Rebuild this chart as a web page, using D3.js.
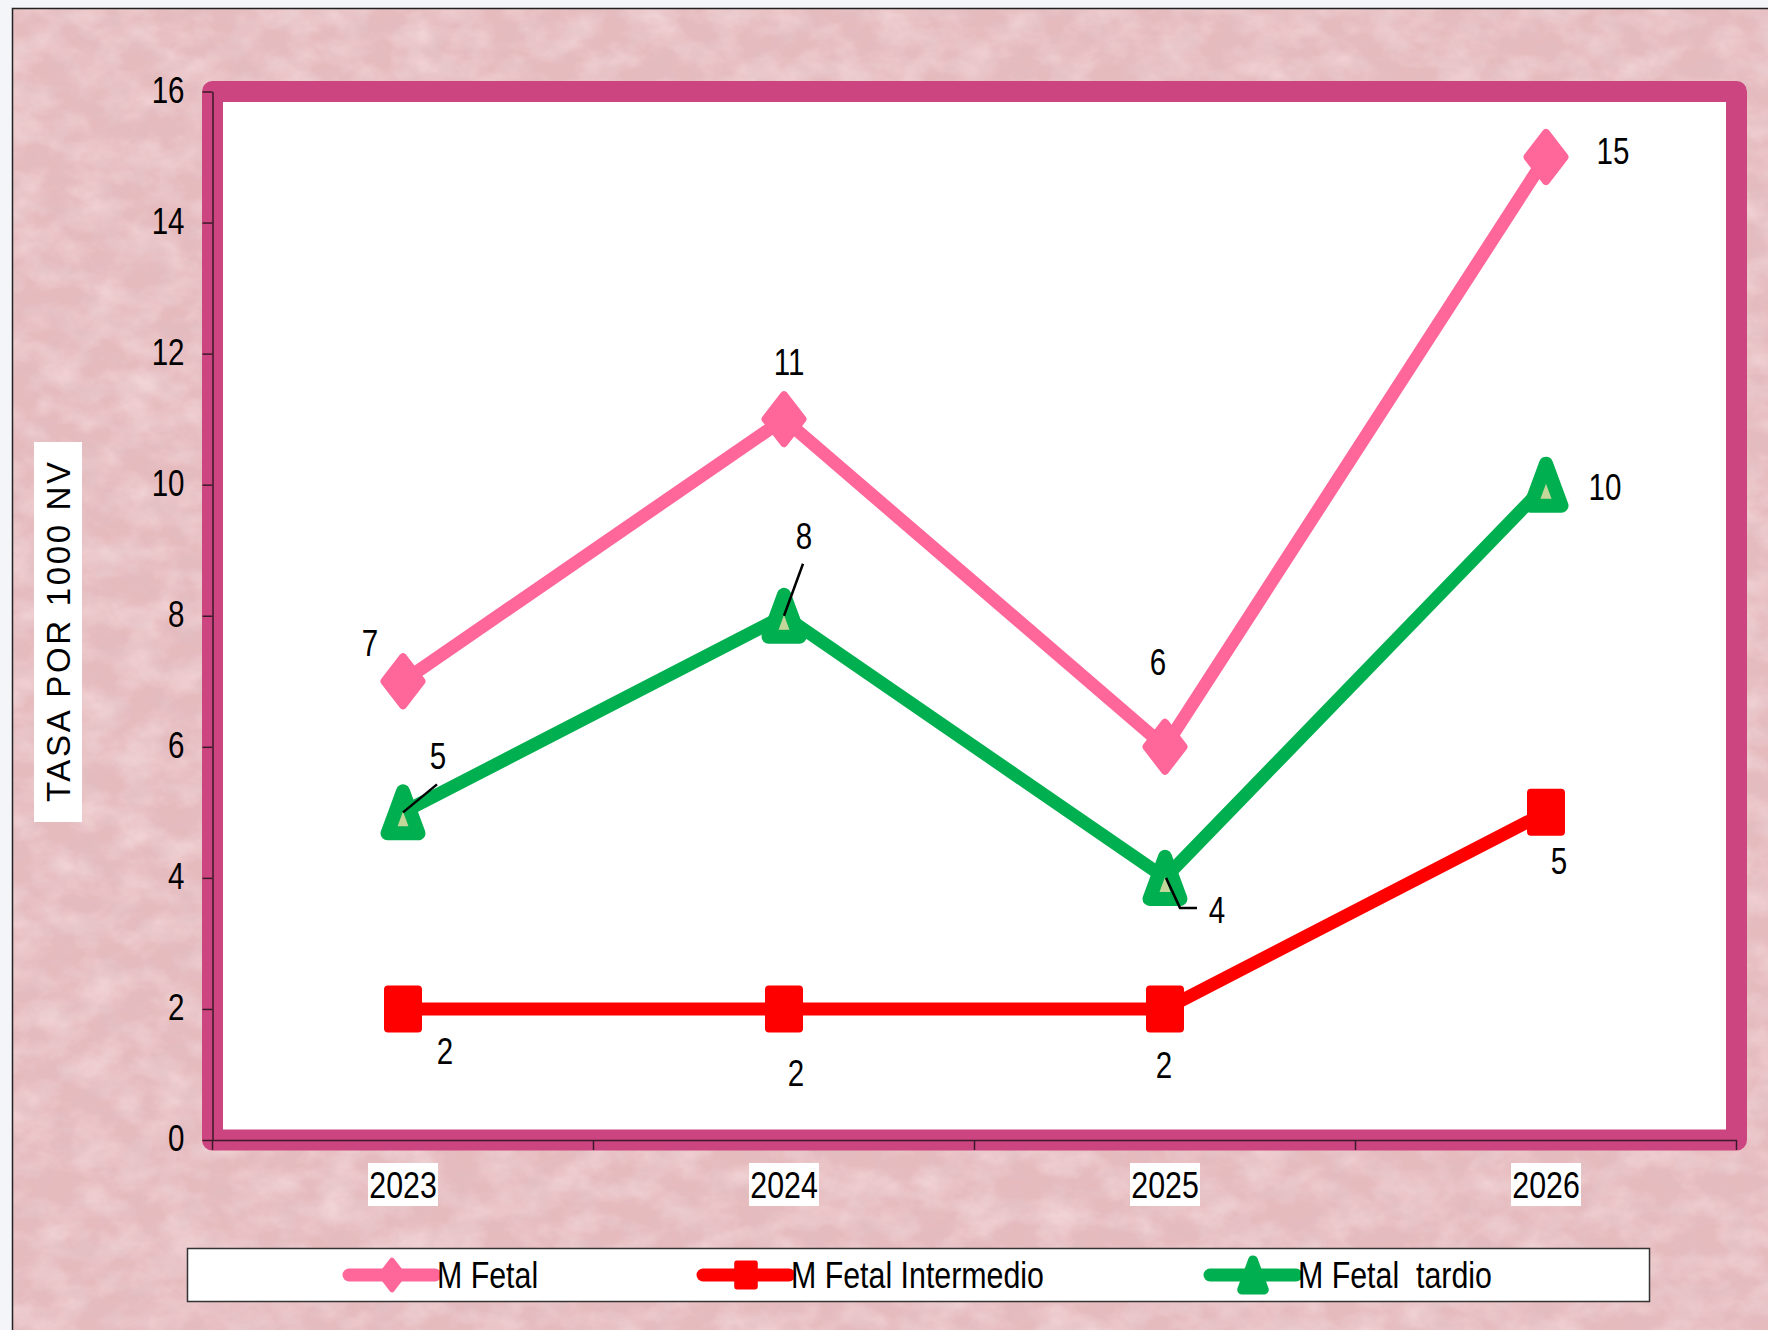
<!DOCTYPE html>
<html><head><meta charset="utf-8">
<script src="https://cdn.jsdelivr.net/npm/d3@7"></script>
<style>
html,body{margin:0;padding:0;background:#f3f5f8;}
svg{display:block;}
</style></head>
<body>
<svg id="chart" width="1768" height="1330"></svg>
<script>
// ---------- data ----------
const years = ["2023", "2024", "2025", "2026"];
const mFetal = [7, 11, 6, 15];
const mFetalIntermedio = [2, 2, 2, 5];
const mFetalTardio = [5, 8, 4, 10];
const yTicks = [0, 2, 4, 6, 8, 10, 12, 14, 16];
const seriesNames = ["M Fetal", "M Fetal Intermedio", "M Fetal  tardio"];
const yTitle = "TASA POR 1000 NV";

// ---------- label placement (offsets from the point, px) ----------
const offFetal = [[-33, -38], [5, -57], [-7, -85], [67, -6]];
const offInter = [[42, 42], [12, 64], [-1, 56], [13, 49]];
const offTardio = [[35, -56], [20, -80], [52, 32], [59, 2]];

const W = 1768, H = 1330;
const NARROW = "'Liberation Sans',Arial,sans-serif";
const SANS = "'Liberation Sans',Arial,sans-serif";
const svg = d3.select("#chart");
const defs = svg.append("defs");

// condense text horizontally (Arial Narrow look)
function narrow(sel, k = 0.82) {
  sel.each(function () {
    const len = this.getComputedTextLength();
    d3.select(this).attr("textLength", len * k).attr("lengthAdjust", "spacingAndGlyphs");
  });
}

// paper texture
const f = defs.append("filter").attr("id", "paper").attr("x", 0).attr("y", 0).attr("width", "100%").attr("height", "100%");
f.append("feTurbulence").attr("type", "fractalNoise").attr("baseFrequency", "0.025 0.035").attr("numOctaves", 4).attr("seed", 7).attr("result", "n");
f.append("feColorMatrix").attr("in", "n").attr("type", "matrix")
  .attr("values", "0 0 0 0 1  0 0 0 0 0.88  0 0 0 0 0.89  0.9 0 0 0 -0.33");
const f2 = defs.append("filter").attr("id", "paperDark").attr("x", 0).attr("y", 0).attr("width", "100%").attr("height", "100%");
f2.append("feTurbulence").attr("type", "fractalNoise").attr("baseFrequency", "0.04 0.05").attr("numOctaves", 3).attr("seed", 19).attr("result", "n");
f2.append("feColorMatrix").attr("in", "n").attr("type", "matrix")
  .attr("values", "0 0 0 0 0.72  0 0 0 0 0.52  0 0 0 0 0.55  0.9 0 0 0 -0.35");

// outer background frame
svg.append("rect").attr("x", 12).attr("y", 8).attr("width", W - 12).attr("height", H - 8).attr("fill", "#e6bbbe");
svg.append("rect").attr("x", 12).attr("y", 8).attr("width", W - 12).attr("height", H - 8).attr("filter", "url(#paper)");
svg.append("rect").attr("x", 12).attr("y", 8).attr("width", W - 12).attr("height", H - 8).attr("filter", "url(#paperDark)");
svg.append("path").attr("d", `M12.5,${H} L12.5,8.5 L${W},8.5`).attr("fill", "none").attr("stroke", "#222").attr("stroke-width", 1.5);

// ---------- scales ----------
const plotL = 212.5, plotR = 1736.5, plotT = 91.5, plotB = 1140;
const x = d3.scaleBand().domain(years).range([plotL, plotR]).padding(0);
const y = d3.scaleLinear().domain([0, 16]).range([plotB, plotT]);
const cx = d => x(d) + x.bandwidth() / 2;

// plot area with magenta frame
svg.append("rect").attr("x", plotL).attr("y", plotT).attr("width", plotR - plotL).attr("height", plotB - plotT)
  .attr("fill", "#ffffff").attr("stroke", "#cc4580").attr("stroke-width", 21).attr("stroke-linejoin", "round");

// y axis
const yAxis = svg.append("g").attr("transform", `translate(${plotL},0)`)
  .call(d3.axisLeft(y).tickValues(yTicks).tickSize(10).tickSizeOuter(0).tickPadding(18));
yAxis.select(".domain").attr("stroke", "#3a1a28").attr("stroke-width", 1.5);
yAxis.selectAll(".tick line").attr("stroke", "#3a1a28").attr("stroke-width", 1.5);
yAxis.selectAll(".tick text").attr("font-family", NARROW).attr("font-size", 36).attr("fill", "#000").attr("dy", "0.3em").call(narrow);

// x axis
const xAxis = svg.append("g").attr("transform", `translate(0,${plotB})`)
  .call(d3.axisBottom(x).tickSize(0).tickSizeOuter(0).tickFormat(""));
xAxis.select(".domain").attr("stroke", "#3a1a28").attr("stroke-width", 1.5);
const bounds = years.map(d => x(d)).concat([plotR]);
svg.append("g").selectAll("line").data(bounds).join("line")
  .attr("x1", d => d).attr("x2", d => d).attr("y1", plotB).attr("y2", plotB + 10)
  .attr("stroke", "#3a1a28").attr("stroke-width", 1.5);
const xl = svg.append("g").selectAll("g").data(years).join("g").attr("transform", d => `translate(${cx(d)},1185)`);
xl.append("rect").attr("x", -35).attr("y", -22).attr("width", 70).attr("height", 43).attr("fill", "#fff");
xl.append("text").attr("text-anchor", "middle").attr("y", 13).attr("font-family", NARROW).attr("font-size", 37).attr("fill", "#000").text(d => d).call(narrow);

// y title
const yt = svg.append("g").attr("transform", "translate(58,632) rotate(-90)");
yt.append("rect").attr("x", -190).attr("y", -24).attr("width", 380).attr("height", 48).attr("fill", "#fff");
yt.append("text").attr("text-anchor", "middle").attr("y", 12).attr("font-family", SANS).attr("font-size", 33)
  .attr("textLength", 340).attr("lengthAdjust", "spacing").attr("fill", "#000").text(yTitle);

// ---------- markers ----------
function diamond(g, s) {
  g.append("path").attr("d", `M0,${-24 * s} L${18.5 * s},0 L0,${24 * s} L${-18.5 * s},0 Z`)
    .attr("fill", "#ff6699").attr("stroke", "#ff6699").attr("stroke-width", 8 * s).attr("stroke-linejoin", "round");
}
function square(g, s) {
  g.append("path").attr("d", `M${-15 * s},${-19.5 * s} H${15 * s} V${19.5 * s} H${-15 * s} Z`)
    .attr("fill", "#ff0000").attr("stroke", "#ff0000").attr("stroke-width", 8 * s).attr("stroke-linejoin", "round");
}
function triangle(g, s, inner) {
  g.append("path").attr("d", `M0,${-21 * s} L${15.5 * s},${21 * s} L${-15.5 * s},${21 * s} Z`)
    .attr("fill", inner ? "#c4d79b" : "#00b050").attr("stroke", "#00b050").attr("stroke-width", 14 * s).attr("stroke-linejoin", "round");
}

const series = [
  { name: seriesNames[0], vals: mFetal, color: "#ff6699", marker: diamond, off: offFetal },
  { name: seriesNames[1], vals: mFetalIntermedio, color: "#ff0000", marker: square, off: offInter },
  { name: seriesNames[2], vals: mFetalTardio, color: "#00b050", marker: triangle, off: offTardio }
];

const line = d3.line().x(d => cx(d.year)).y(d => y(d.v));
series.forEach(s => {
  const pts = years.map((yr, i) => ({ year: yr, v: s.vals[i] }));
  svg.append("path").datum(pts).attr("d", line).attr("fill", "none").attr("stroke", s.color)
    .attr("stroke-width", 13).attr("stroke-linejoin", "miter");
  pts.forEach(p => {
    const g = svg.append("g").attr("transform", `translate(${cx(p.year)},${y(p.v)})`);
    s.marker(g, 1, true);
  });
});

// leader lines for the tardío labels (anchored at points)
const tardPts = years.map((yr, i) => [cx(yr), y(mFetalTardio[i])]);
const leaders = [
  [[tardPts[0][0] + 34, tardPts[0][1] - 28], [tardPts[0][0], tardPts[0][1]]],
  [[tardPts[1][0] + 19, tardPts[1][1] - 52], [tardPts[1][0], tardPts[1][1]]],
  [[tardPts[2][0] + 1, tardPts[2][1]], [tardPts[2][0] + 15, tardPts[2][1] + 30], [tardPts[2][0] + 32, tardPts[2][1] + 30]]
];
svg.append("g").selectAll("path").data(leaders).join("path")
  .attr("d", d => d3.line()(d)).attr("fill", "none").attr("stroke", "#000").attr("stroke-width", 2.5);

// data labels
series.forEach(s => {
  svg.append("g").selectAll("text").data(s.vals).join("text")
    .attr("x", (v, i) => cx(years[i]) + s.off[i][0])
    .attr("y", (v, i) => y(v) + s.off[i][1] + 13)
    .attr("text-anchor", "middle").attr("font-family", NARROW).attr("font-size", 36).attr("fill", "#000")
    .text(v => v).call(narrow);
});

// ---------- legend ----------
svg.append("rect").attr("x", 187.5).attr("y", 1248.5).attr("width", 1462).attr("height", 53)
  .attr("fill", "#fff").attr("stroke", "#333").attr("stroke-width", 1.5);
const legX = [349, 703, 1210];
series.forEach((s, i) => {
  const g = svg.append("g").attr("transform", `translate(${legX[i]},1275)`);
  g.append("line").attr("x1", 0).attr("x2", 86).attr("stroke", s.color).attr("stroke-width", 13).attr("stroke-linecap", "round");
  const m = g.append("g").attr("transform", "translate(43,0)");
  s.marker(m, i === 2 ? 0.7 : 0.62, false);
  g.append("text").attr("x", 88).attr("y", 13).attr("font-family", NARROW).attr("font-size", 37).attr("fill", "#000")
    .attr("xml:space", "preserve").style("white-space", "pre").text(s.name).call(narrow);
});
</script>
</body></html>
